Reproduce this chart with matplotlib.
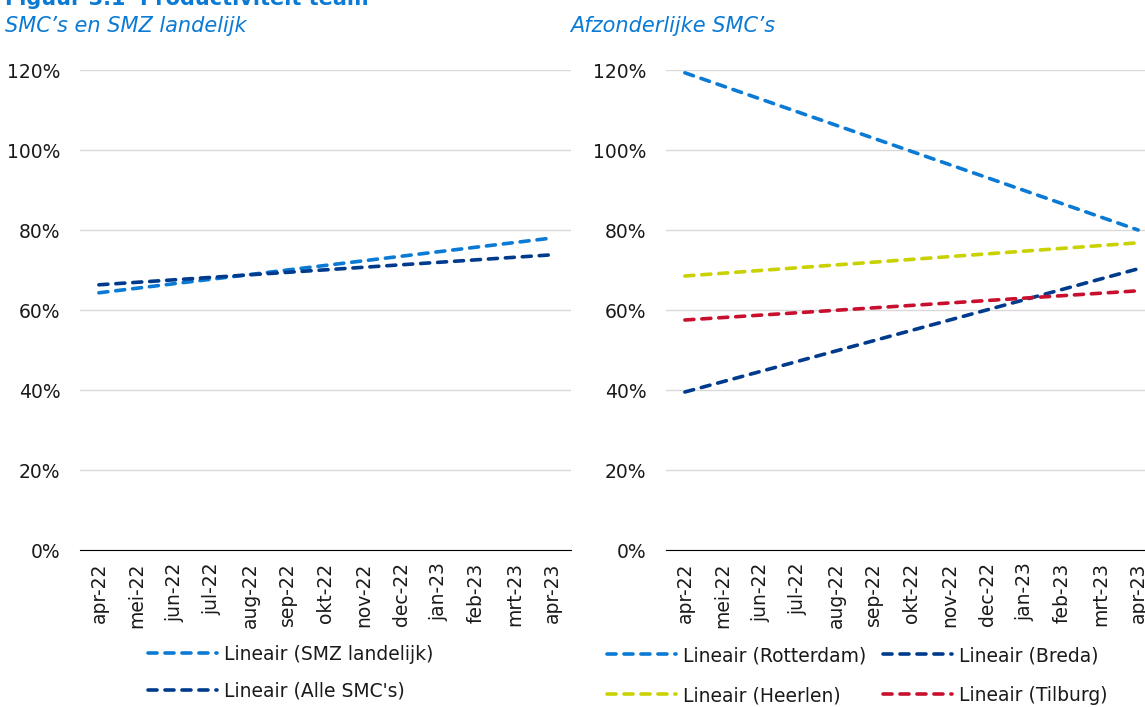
import matplotlib.pyplot as plt
from matplotlib.ticker import PercentFormatter

# Data (trend lines, start and end values in %)
months = ['apr-22', 'mei-22', 'jun-22', 'jul-22', 'aug-22', 'sep-22', 'okt-22',
          'nov-22', 'dec-22', 'jan-23', 'feb-23', 'mrt-23', 'apr-23']
yticks = [0, 20, 40, 60, 80, 100, 120]

left_names = ['Lineair (SMZ landelijk)', "Lineair (Alle SMC's)"]
left_start = [64.3, 66.3]
left_end = [78.0, 73.8]

right_names = ['Lineair (Rotterdam)', 'Lineair (Heerlen)', 'Lineair (Breda)', 'Lineair (Tilburg)']
right_start = [119.3, 68.5, 39.5, 57.5]
right_end = [80.0, 76.8, 70.3, 64.8]

LIGHT = '#0A7AD4'
NAVY = '#003A8C'
YEL = '#C9D200'
RED = '#C8102E'
left_colors = [LIGHT, NAVY]
right_colors = [LIGHT, YEL, NAVY, RED]

FS = 13.5
plt.rcParams['font.family'] = ['DejaVu Sans']

fig = plt.figure(figsize=(11.45, 7.07), dpi=100)
W, H = 1145, 707

def make_axes(x0, x1):
    ax = fig.add_axes([x0 / W, 1 - 550 / H, (x1 - x0) / W, (550 - 70) / H])
    ax.set_ylim(0, 120)
    ax.set_xlim(-0.5, len(months) - 0.5)
    ax.set_yticks(yticks)
    ax.yaxis.set_major_formatter(PercentFormatter(decimals=0))
    ax.set_xticks(range(len(months)))
    ax.set_xticklabels(months, rotation=90)
    ax.grid(axis='y', color='#D9D9D9', linewidth=1)
    ax.set_axisbelow(True)
    for s in ['left', 'right', 'top']:
        ax.spines[s].set_visible(False)
    ax.spines['bottom'].set_color('black')
    ax.tick_params(length=0, labelsize=FS, colors='#1a1a1a')
    ax.tick_params(axis='y', pad=14)
    ax.tick_params(axis='x', pad=9)
    return ax

def trend(ax, start, end, color, name):
    ax.plot([0, len(months) - 1], [start, end], color=color, linewidth=2.6,
            linestyle=(0, (2.5, 2.2)), dash_capstyle='round', label=name)

ax1 = make_axes(80, 571)
for s, e, c, n in zip(left_start, left_end, left_colors, left_names):
    trend(ax1, s, e, c, n)

ax2 = make_axes(666, 1157)
for s, e, c, n in zip(right_start, right_end, right_colors, right_names):
    trend(ax2, s, e, c, n)

leg_kw = dict(frameon=False, fontsize=FS, handlelength=3.7, handletextpad=0.35,
              borderaxespad=0, borderpad=0,
              bbox_transform=fig.transFigure, loc='upper left')
l1 = ax1.legend(bbox_to_anchor=(148 / W, 1 - 645 / H), ncol=1,
                labelspacing=0.95, **leg_kw)
l2 = ax2.legend(bbox_to_anchor=(607 / W, 1 - 646 / H), ncol=2,
                labelspacing=1.12, columnspacing=0.9, **leg_kw)
for leg in (l1, l2):
    for t in leg.get_texts():
        t.set_color('#1a1a1a')

fig.text(5 / W, 1 - 5 / H, 'Figuur 3.1  Productiviteit team', color=LIGHT,
         fontsize=15, fontweight='bold', va='baseline')
fig.text(5 / W, 1 - 26 / H, "SMC’s en SMZ landelijk", color=LIGHT,
         fontsize=15, fontstyle='italic', va='center')
fig.text(570 / W, 1 - 26 / H, "Afzonderlijke SMC’s", color=LIGHT,
         fontsize=15, fontstyle='italic', va='center')

fig.savefig('out.png', dpi=100)
